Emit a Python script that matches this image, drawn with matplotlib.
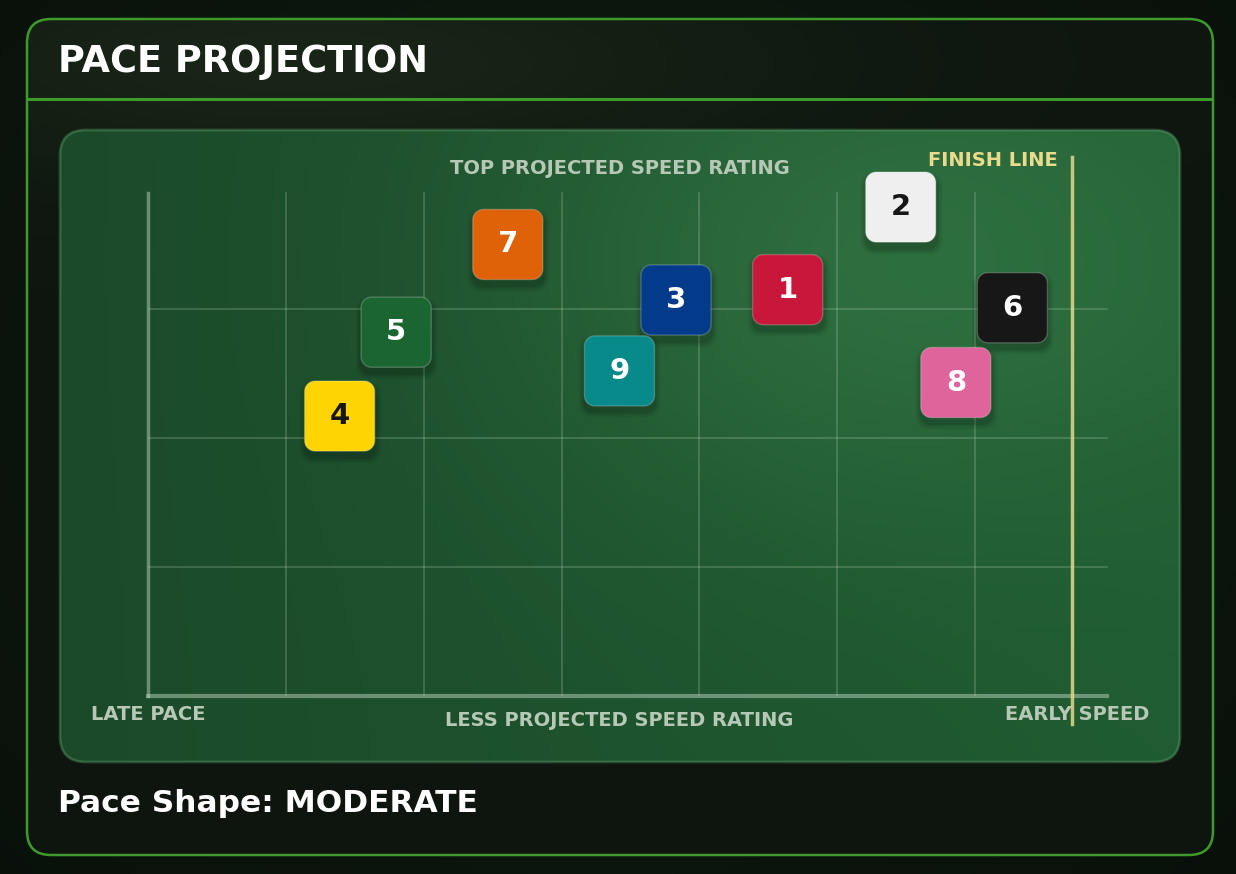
import numpy as np
import matplotlib
matplotlib.use("Agg")
import matplotlib.pyplot as plt
from matplotlib.patches import FancyBboxPatch
from matplotlib.path import Path
import matplotlib.transforms as mtransforms

plt.rcParams['font.family'] = ['DejaVu Sans']

# horse numbers and their place on the pace chart
horses = ["7", "2", "3", "1", "5", "6", "9", "8", "4"]
early_pace = [2.61, 5.46, 3.83, 4.64, 1.80, 6.27, 3.42, 5.86, 1.39]
speed_rating = [3.50, 3.79, 3.07, 3.15, 2.82, 3.01, 2.52, 2.43, 2.17]
box_colors = ["#e06208", "#efefef", "#033a8a", "#c8173a", "#1b6531",
              "#171717", "#088a8a", "#e0649c", "#ffd400"]
text_colors = ["white", "#161616", "white", "white", "white",
               "white", "white", "white", "#161616"]
pace_shape = "MODERATE"

W, H = 1236, 874
fig = plt.figure(figsize=(W / 100, H / 100), dpi=100)
fig.patch.set_facecolor("#0a120c")

# background layer in pixel coords
bg = fig.add_axes([0, 0, 1, 1])
bg.set_xlim(0, W)
bg.set_ylim(H, 0)
bg.axis("off")

yy, xx = np.mgrid[0:H:4, 0:W:4]
vig = np.exp(-(((xx - 600) / 700) ** 2 + ((yy - 400) / 600) ** 2))
page = np.zeros((yy.shape[0], yy.shape[1], 3))
page[..., 0] = 0.03 + 0.03 * vig
page[..., 1] = 0.05 + 0.06 * vig
page[..., 2] = 0.035 + 0.03 * vig
bg.imshow(page, extent=[0, W, H, 0], zorder=0, aspect="auto")

# outer card
card = FancyBboxPatch((27, 19), 1186, 836, boxstyle="round,pad=0,rounding_size=24",
                      facecolor="#0f1a11", edgecolor="none", zorder=1)
bg.add_patch(card)
glow = np.exp(-(((xx - 300) / 500) ** 2 + ((yy - 60) / 120) ** 2))
cg = np.zeros((yy.shape[0], yy.shape[1], 3))
cg[..., 0] = 0.055 + 0.04 * glow
cg[..., 1] = 0.085 + 0.06 * glow
cg[..., 2] = 0.06 + 0.03 * glow
im = bg.imshow(cg, extent=[0, W, H, 0], zorder=1.1, aspect="auto")
im.set_clip_path(card)
bg.add_patch(FancyBboxPatch((27, 19), 1186, 836, boxstyle="round,pad=0,rounding_size=24",
                            facecolor="none", edgecolor="#3f9a2c", linewidth=1.8, zorder=1.2))
bg.plot([28, 1212], [99, 99], color="#3f9a2c", lw=2.2, zorder=2)

# inner green panel
panel = FancyBboxPatch((60, 130), 1120, 632, boxstyle="round,pad=0,rounding_size=26",
                       facecolor="#1f5a2f", edgecolor="none", zorder=2)
bg.add_patch(panel)
hl = np.exp(-(((xx - 880) / 380) ** 2 + ((yy - 260) / 260) ** 2))
t = (xx - 60) / 1120
pg = np.zeros((yy.shape[0], yy.shape[1], 3))
pg[..., 0] = 0.105 + 0.02 * t + 0.06 * hl
pg[..., 1] = 0.29 + 0.07 * t + 0.09 * hl
pg[..., 2] = 0.165 + 0.03 * t + 0.06 * hl
pim = bg.imshow(pg, extent=[0, W, H, 0], zorder=2.1, aspect="auto")
pim.set_clip_path(panel)
bg.add_patch(FancyBboxPatch((60, 130), 1120, 632, boxstyle="round,pad=0,rounding_size=26",
                            facecolor="none", edgecolor=(0.45, 0.75, 0.5, 0.3),
                            linewidth=2, zorder=2.2))

bg.text(58, 61, "PACE PROJECTION", color="white", fontsize=26.5, fontweight="bold",
        va="center", ha="left", zorder=3)
bg.text(58, 803, "Pace Shape: " + pace_shape, color="white", fontsize=22.5,
        fontweight="bold", va="center", ha="left", zorder=3)

lab = "#b7c9b6"
bg.text(620, 168, "TOP PROJECTED SPEED RATING", color=lab, fontsize=14,
        fontweight="bold", ha="center", va="center", zorder=3)
bg.text(619, 720, "LESS PROJECTED SPEED RATING", color=lab, fontsize=14,
        fontweight="bold", ha="center", va="center", zorder=3)
bg.text(148, 714, "LATE PACE", color=lab, fontsize=14, fontweight="bold",
        ha="center", va="center", zorder=3)
bg.text(1077, 714, "EARLY SPEED", color=lab, fontsize=14, fontweight="bold",
        ha="center", va="center", zorder=3)
bg.text(993, 161, "FINISH LINE", color="#eadb8c", fontsize=14, fontweight="bold",
        ha="center", va="center", zorder=3)

# data axes
x0, x1, y0, y1 = 148, 1113, 696, 180
ax = fig.add_axes([x0 / W, 1 - y0 / H, (x1 - x0) / W, (y0 - y1) / H])
ax.set_xlim(0, 7)
ax.set_ylim(0, 4)
ax.axis("off")
ax.patch.set_alpha(0)

grid_c = (0.75, 0.85, 0.75, 0.28)
for gx in range(1, 7):
    ax.plot([gx, gx], [0, 3.9], color=grid_c, lw=1.1, zorder=1)
for gy in range(1, 4):
    ax.plot([0, 6.96], [gy, gy], color=grid_c, lw=1.1, zorder=1)
ax.plot([0, 0], [0, 3.9], color=(0.8, 0.88, 0.8, 0.45), lw=2.5, zorder=1, clip_on=False)
ax.plot([0, 6.96], [0, 0], color=(0.8, 0.88, 0.8, 0.45), lw=3, zorder=1, clip_on=False)

# finish line
ax.plot([6.705, 6.705], [-0.22, 4.18], color="#e5d98a", lw=2.5, alpha=0.85,
        zorder=2, clip_on=False)


def rounded_square(r=0.3, n=10):
    pts = []
    c = 1 - r
    for cx, cy, a0 in [(c, c, 0), (-c, c, 90), (-c, -c, 180), (c, -c, 270)]:
        for a in np.linspace(a0, a0 + 90, n):
            pts.append((cx + r * np.cos(np.radians(a)), cy + r * np.sin(np.radians(a))))
    pts.append(pts[0])
    codes = [Path.MOVETO] + [Path.LINETO] * (len(pts) - 2) + [Path.CLOSEPOLY]
    return Path(pts, codes)


marker = rounded_square()
size = 50.5 ** 2
# soft shadow, a few faint layers
shadow_tr = ax.transData + mtransforms.ScaledTranslation(0, -4 / 72, fig.dpi_scale_trans)
for grow, alpha in [(1.35, 0.05), (1.22, 0.07), (1.1, 0.1)]:
    ax.scatter(early_pace, speed_rating, s=size * grow, marker=marker, color="black",
               alpha=alpha, linewidths=0, transform=shadow_tr, zorder=3, clip_on=False)
ax.scatter(early_pace, speed_rating, s=size, marker=marker, c=box_colors,
           edgecolors=(1, 1, 1, 0.22), linewidths=1, zorder=4, clip_on=False)
for hx, hy, num, tc in zip(early_pace, speed_rating, horses, text_colors):
    ax.text(hx, hy, num, color=tc, fontsize=21, fontweight="bold",
            ha="center", va="center", zorder=5)

fig.savefig("out.png", dpi=100, facecolor=fig.get_facecolor())
